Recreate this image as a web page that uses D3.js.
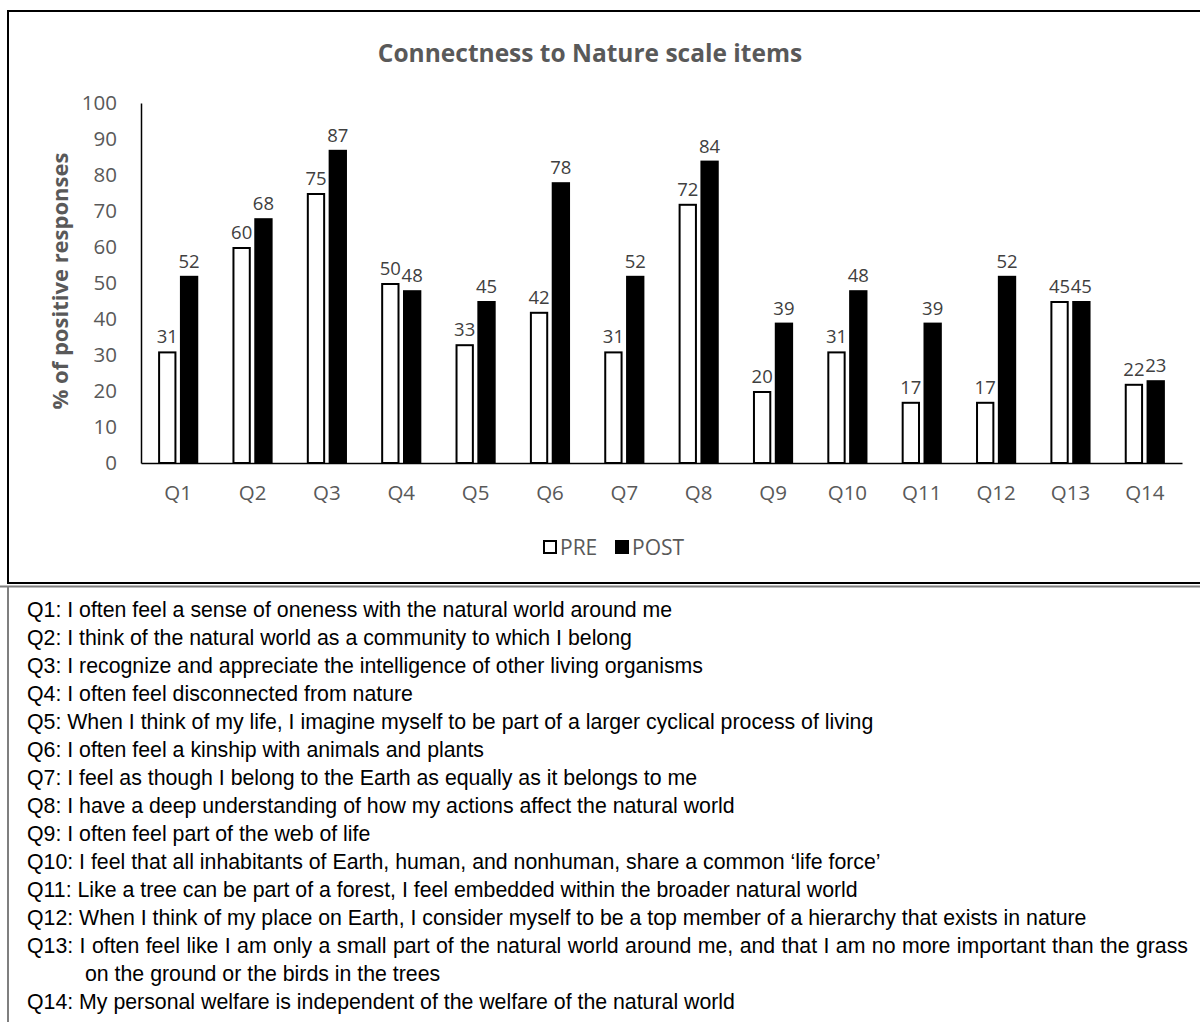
<!DOCTYPE html>
<html>
<head>
<meta charset="utf-8">
<script src="https://cdn.jsdelivr.net/npm/d3@7"></script>
<style>
  html, body { margin: 0; padding: 0; background: #fff; }
  svg { display: block; }
</style>
</head>
<body>
<svg id="chart" width="1200" height="1026"></svg>
<script>
const categories = ["Q1","Q2","Q3","Q4","Q5","Q6","Q7","Q8","Q9","Q10","Q11","Q12","Q13","Q14"];
const seriesNames = ["PRE","POST"];
const preValues  = [31,60,75,50,33,42,31,72,20,31,17,17,45,22];
const postValues = [52,68,87,48,45,78,52,84,39,48,39,52,45,23];
const yTicks = [0,10,20,30,40,50,60,70,80,90,100];
const chartTitle = "Connectness to Nature scale items";
const yTitle = "% of positive responses";
const statements = [
  "Q1: I often feel a sense of oneness with the natural world around me",
  "Q2: I think of the natural world as a community to which I belong",
  "Q3: I recognize and appreciate the intelligence of other living organisms",
  "Q4: I often feel disconnected from nature",
  "Q5: When I think of my life, I imagine myself to be part of a larger cyclical process of living",
  "Q6: I often feel a kinship with animals and plants",
  "Q7: I feel as though I belong to the Earth as equally as it belongs to me",
  "Q8: I have a deep understanding of how my actions affect the natural world",
  "Q9: I often feel part of the web of life",
  "Q10: I feel that all inhabitants of Earth, human, and nonhuman, share a common \u2018life force\u2019",
  "Q11: Like a tree can be part of a forest, I feel embedded within the broader natural world",
  "Q12: When I think of my place on Earth, I consider myself to be a top member of a hierarchy that exists in nature",
  "Q13: I often feel like I am only a small part of the natural world around me, and that I am no more important than the grass",
  "    on the ground or the birds in the trees",
  "Q14: My personal welfare is independent of the welfare of the natural world"
];
const justifiedLines = [12];

const svg = d3.select("#chart");
const chartFont = "'Open Sans', 'Noto Sans', sans-serif";
const grey = "#595959";

// Frame of the chart area
svg.append("rect")
  .attr("x", 8).attr("y", 11).attr("width", 1210).attr("height", 572)
  .attr("fill", "none").attr("stroke", "#000").attr("stroke-width", 2);
// lower text box borders
svg.append("line").attr("x1", 0).attr("x2", 1200).attr("y1", 586.5).attr("y2", 586.5)
  .attr("stroke", "#7f7f7f").attr("stroke-width", 2);
svg.append("line").attr("x1", 8).attr("x2", 8).attr("y1", 586).attr("y2", 1022)
  .attr("stroke", "#7f7f7f").attr("stroke-width", 2);

const plot = { left: 141, right: 1182, top: 103, bottom: 463 };

const x0 = d3.scaleBand().domain(categories).range([plot.left, plot.right])
  .paddingInner(0.46).paddingOuter(0.23);
const x1 = d3.scaleBand().domain(seriesNames).range([0, x0.bandwidth()]).paddingInner(0.16);
const y = d3.scaleLinear().domain([0, 100]).range([plot.bottom, plot.top]);

// Title
svg.append("text")
  .attr("x", 590).attr("y", 62)
  .attr("text-anchor", "middle")
  .attr("font-family", chartFont).attr("font-weight", "bold")
  .attr("font-size", 24.5).attr("fill", grey)
  .text(chartTitle);

// Y axis
const yAxis = d3.axisLeft(y).tickValues(yTicks).tickSize(0).tickPadding(24);
const gy = svg.append("g").attr("transform", `translate(${plot.left},0)`).call(yAxis);
gy.select(".domain").attr("stroke", "#000").attr("stroke-width", 1.5);
gy.selectAll("text").attr("font-family", chartFont).attr("font-size", 20.5).attr("fill", grey);

// X axis
const xAxis = d3.axisBottom(x0).tickSize(0).tickPadding(22);
const gx = svg.append("g").attr("transform", `translate(0,${plot.bottom})`).call(xAxis);
gx.select(".domain").attr("stroke", "#000").attr("stroke-width", 1.5);
gx.selectAll("text").attr("font-family", chartFont).attr("font-size", 20.5).attr("fill", grey);

// Y axis title
svg.append("text")
  .attr("transform", "translate(68,281) rotate(-90)")
  .attr("text-anchor", "middle")
  .attr("font-family", chartFont).attr("font-weight", "bold")
  .attr("font-size", 22).attr("fill", grey)
  .text(yTitle);

// Bars
const rows = categories.map((c, i) => ({ cat: c, vals: [
  { s: "PRE", v: preValues[i] }, { s: "POST", v: postValues[i] } ] }));

const groups = svg.append("g").selectAll("g").data(rows).join("g")
  .attr("transform", d => `translate(${x0(d.cat)},0)`);

groups.selectAll("rect").data(d => d.vals).join("rect")
  .attr("x", d => x1(d.s) + (d.s === "PRE" ? 1 : 0))
  .attr("y", d => y(d.v) + (d.s === "PRE" ? 1 : 0))
  .attr("width", d => x1.bandwidth() - (d.s === "PRE" ? 2 : 0))
  .attr("height", d => plot.bottom - y(d.v) - (d.s === "PRE" ? 1 : 0))
  .attr("fill", d => d.s === "PRE" ? "#fff" : "#000")
  .attr("stroke", d => d.s === "PRE" ? "#000" : "none")
  .attr("stroke-width", 2);

groups.selectAll("text").data(d => d.vals).join("text")
  .attr("x", d => x1(d.s) + x1.bandwidth() / 2)
  .attr("y", d => y(d.v) - 8)
  .attr("text-anchor", "middle")
  .attr("font-family", chartFont).attr("font-size", 18.5).attr("fill", "#404040")
  .text(d => d.v);

// Legend
const legend = svg.append("g");
const legendItems = [
  { s: "PRE", x: 543, fill: "#fff", stroke: "#000" },
  { s: "POST", x: 615, fill: "#000", stroke: "#000" }
];
legendItems.forEach(it => {
  legend.append("rect").attr("x", it.x + 1).attr("y", 541).attr("width", 12).attr("height", 12)
    .attr("fill", it.fill).attr("stroke", it.stroke).attr("stroke-width", 2);
  legend.append("text").attr("x", it.x + 17).attr("y", 555)
    .attr("font-family", chartFont).attr("font-size", 21).attr("fill", grey)
    .text(it.s);
});

// Statements list
const listRight = 1188;
const st = svg.append("g").selectAll("text").data(statements).join("text")
  .attr("x", (d) => d.startsWith("    ") ? 85 : 27)
  .attr("y", (d, i) => 617 + i * 28)
  .attr("font-family", "'Liberation Sans', Arial, sans-serif")
  .attr("font-size", 21.3).attr("fill", "#000")
  .text(d => d.trim());
// justify wrapped line(s) like the word processor did
st.each(function(d, i) {
  if (!justifiedLines.includes(i)) return;
  const el = d3.select(this);
  const w = this.getComputedTextLength();
  const gaps = d.trim().split(" ").length - 1;
  const x = +el.attr("x");
  el.attr("word-spacing", Math.max(0, ((listRight - x) - w) / gaps));
});
</script>
</body>
</html>
